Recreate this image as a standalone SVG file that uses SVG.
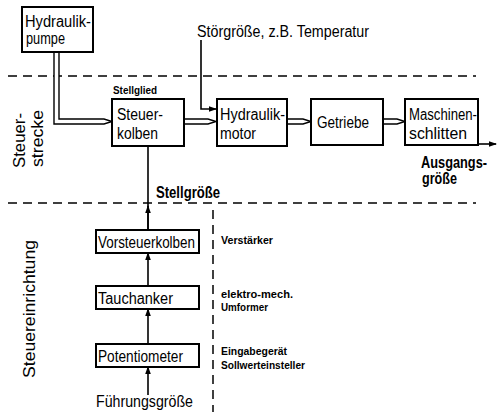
<svg xmlns="http://www.w3.org/2000/svg" width="500" height="417" viewBox="0 0 500 417">
<defs>
<marker id="ah" markerWidth="8" markerHeight="8" refX="7" refY="4" orient="auto" markerUnits="userSpaceOnUse">
<path d="M0,1.2 L8,4 L0,6.8 Z" fill="#000"/>
</marker>
<style>
.box{fill:#fff;stroke:#000;stroke-width:2}
.t{font-family:"Liberation Sans",Arial,sans-serif;font-size:16px;fill:#000}
.b{font-family:"Liberation Sans",Arial,sans-serif;font-size:16px;font-weight:bold;fill:#000}
.s{font-family:"Liberation Sans",Arial,sans-serif;font-size:10.5px;font-weight:bold;fill:#000}
.ln{fill:none;stroke:#000;stroke-width:1.6}
.pipe{fill:#fff;stroke:#000;stroke-width:1.4}
.dash{fill:none;stroke:#000;stroke-width:1.5;stroke-dasharray:9 6}
</style>
</defs>
<rect width="500" height="417" fill="#fff"/>
<g id="separators">
<line class="dash" x1="8" y1="76" x2="476" y2="76"/>
<line class="dash" x1="8" y1="203" x2="476" y2="203"/>
<line class="dash" x1="213" y1="210" x2="213" y2="412"/>
</g>
<g id="connectors">
<path class="pipe" d="M54,52 V124 H104 L112,121.5 L104,119 H59 V52"/>
<path class="pipe" d="M184,119 H208 L216,121.5 L208,124 H184"/>
<path class="pipe" d="M287,119 H303 L311,121.5 L303,124 H287"/>
<path class="pipe" d="M383,119 H397 L405,121.5 L397,124 H383"/>
<path class="ln" d="M201,40 V109 H216" marker-end="url(#ah)"/>
<line class="ln" x1="478" y1="144" x2="496" y2="144" marker-end="url(#ah)"/>
<line class="ln" x1="148" y1="146" x2="148" y2="230"/>
<line class="ln" x1="148" y1="230" x2="148" y2="206" marker-end="url(#ah)"/>
<line class="ln" x1="148" y1="286" x2="148" y2="253" marker-end="url(#ah)"/>
<line class="ln" x1="148" y1="344" x2="148" y2="309" marker-end="url(#ah)"/>
<line class="ln" x1="148" y1="395" x2="148" y2="367" marker-end="url(#ah)"/>
</g>
<g id="pumpe">
<rect class="box" x="22" y="7" width="71" height="45"/>
<text class="t" x="25" y="27" font-size="15" textLength="66" lengthAdjust="spacingAndGlyphs">Hydraulik-</text>
<text class="t" x="26" y="44" font-size="15" textLength="39" lengthAdjust="spacingAndGlyphs">pumpe</text>
</g>
<g id="steuerkolben">
<text class="s" x="113" y="94" textLength="44" lengthAdjust="spacingAndGlyphs">Stellglied</text>
<rect class="box" x="112" y="99" width="72" height="47"/>
<text class="t" x="117" y="120" textLength="46" lengthAdjust="spacingAndGlyphs">Steuer-</text>
<text class="t" x="117" y="139" textLength="41" lengthAdjust="spacingAndGlyphs">kolben</text>
</g>
<g id="hydraulikmotor">
<rect class="box" x="217" y="99" width="70" height="47"/>
<text class="t" x="220" y="120" textLength="65" lengthAdjust="spacingAndGlyphs">Hydraulik-</text>
<text class="t" x="220" y="139" textLength="36" lengthAdjust="spacingAndGlyphs">motor</text>
</g>
<g id="getriebe">
<rect class="box" x="311" y="99" width="72" height="46"/>
<text class="t" x="317" y="128" textLength="52" lengthAdjust="spacingAndGlyphs">Getriebe</text>
</g>
<g id="maschinenschlitten">
<rect class="box" x="405" y="99" width="73" height="46"/>
<text class="t" x="409" y="120" textLength="68" lengthAdjust="spacingAndGlyphs">Maschinen-</text>
<text class="t" x="409" y="139" textLength="58" lengthAdjust="spacingAndGlyphs">schlitten</text>
</g>
<g id="stoergroesse">
<text class="t" x="197" y="37" textLength="172" lengthAdjust="spacingAndGlyphs">Störgröße, z.B. Temperatur</text>
</g>
<g id="ausgangsgroesse">
<text class="b" x="421" y="168" font-size="12" textLength="66" lengthAdjust="spacingAndGlyphs">Ausgangs-</text>
<text class="b" x="422" y="184" font-size="14" textLength="35" lengthAdjust="spacingAndGlyphs">größe</text>
</g>
<g id="stellgroesse">
<text class="b" x="156" y="198" textLength="64" lengthAdjust="spacingAndGlyphs">Stellgröße</text>
</g>
<g id="vorsteuerkolben">
<rect class="box" x="96" y="230" width="103" height="23"/>
<text class="t" x="98" y="248" textLength="97" lengthAdjust="spacingAndGlyphs">Vorsteuerkolben</text>
</g>
<g id="tauchanker">
<rect class="box" x="96" y="286" width="103" height="23"/>
<text class="t" x="98" y="304" textLength="75" lengthAdjust="spacingAndGlyphs">Tauchanker</text>
</g>
<g id="potentiometer">
<rect class="box" x="96" y="344" width="103" height="23"/>
<text class="t" x="98" y="362" textLength="85" lengthAdjust="spacingAndGlyphs">Potentiometer</text>
</g>
<g id="fuehrungsgroesse">
<text class="t" x="96" y="407" textLength="97" lengthAdjust="spacingAndGlyphs">Führungsgröße</text>
</g>
<g id="labels">
<text class="s" x="221" y="244" textLength="52" lengthAdjust="spacingAndGlyphs">Verstärker</text>
<text class="s" x="221" y="298" textLength="72" lengthAdjust="spacingAndGlyphs">elektro-mech.</text>
<text class="s" x="221" y="311" textLength="47" lengthAdjust="spacingAndGlyphs">Umformer</text>
<text class="s" x="221" y="355" textLength="66" lengthAdjust="spacingAndGlyphs">Eingabegerät</text>
<text class="s" x="221" y="369" textLength="84" lengthAdjust="spacingAndGlyphs">Sollwerteinsteller</text>
<text class="t" font-size="20" transform="translate(25,168) rotate(-90)" textLength="55" lengthAdjust="spacingAndGlyphs">Steuer-</text>
<text class="t" font-size="20" transform="translate(43,167) rotate(-90)" textLength="57" lengthAdjust="spacingAndGlyphs">strecke</text>
<text class="t" font-size="19" transform="translate(35,378) rotate(-90)" textLength="138" lengthAdjust="spacingAndGlyphs">Steuereinrichtung</text>
</g>
</svg>
